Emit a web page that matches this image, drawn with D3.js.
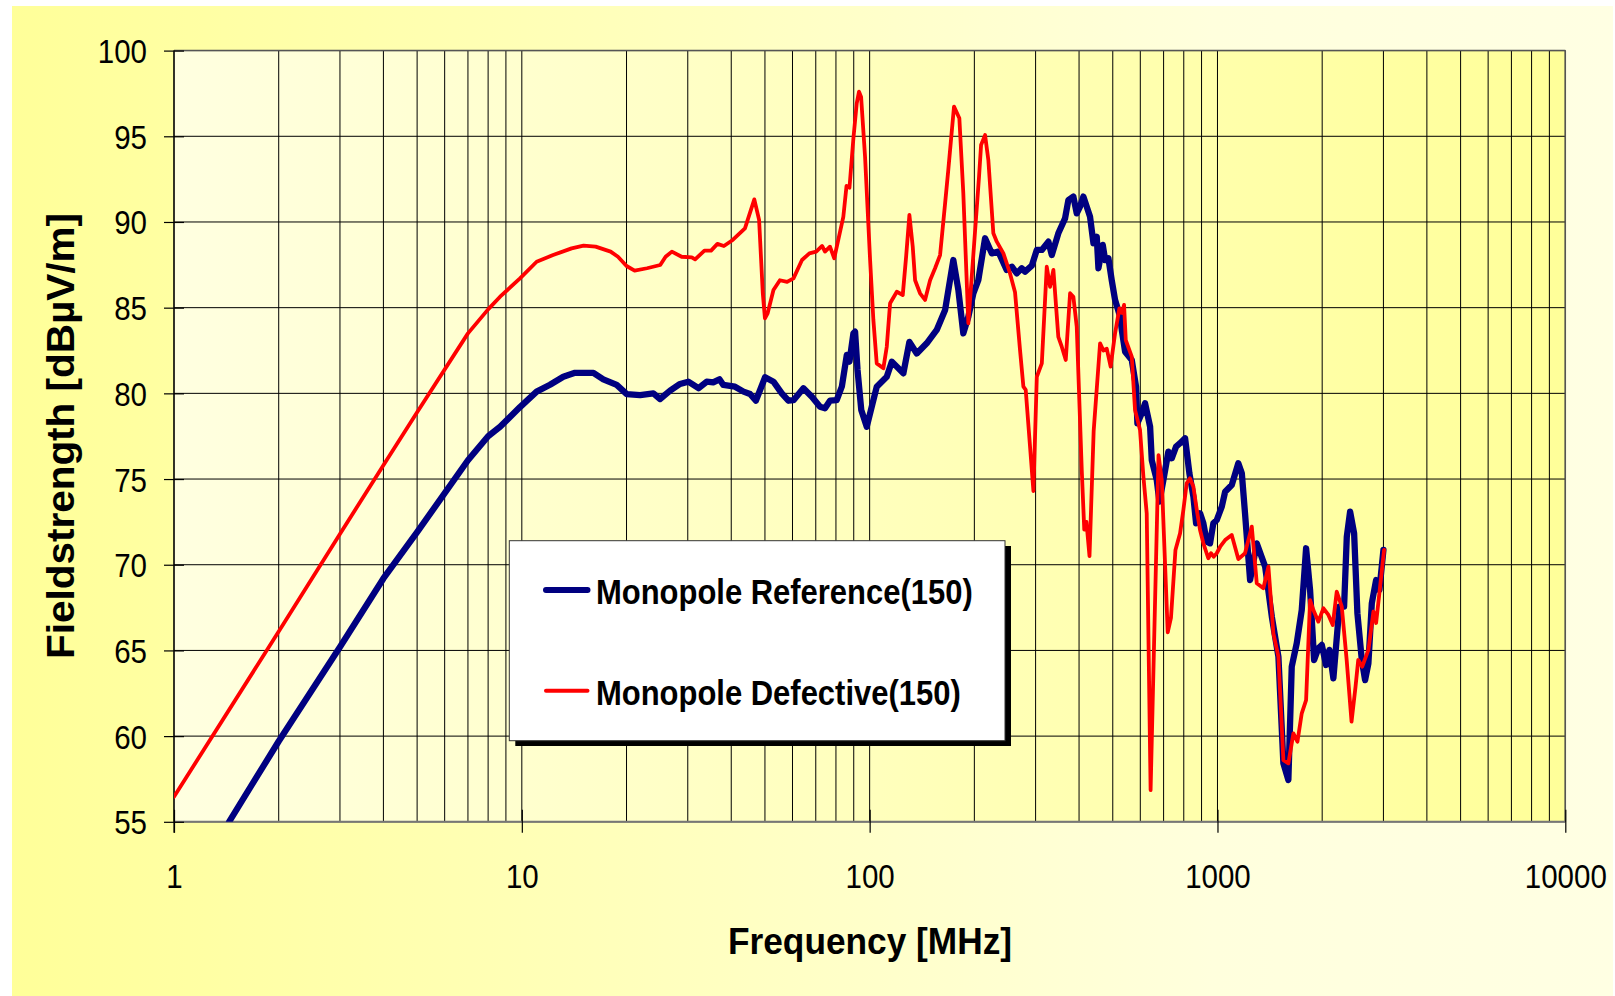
<!DOCTYPE html>
<html><head><meta charset="utf-8">
<script src="https://cdn.jsdelivr.net/npm/d3@7"></script>
<style>html,body{margin:0;padding:0;background:#fff;} svg{display:block;}</style>
</head><body><svg id="chart" width="1615" height="996"></svg>
<script>
// ---------------- data ----------------
const freqRef = [1.44,2,3,4,5,7,8,8.66,9.88,11.03,
12.05,13.16,14.22,16.06,17.15,18.74,20.03,21.88,23.89,24.97,
26.69,28.5,30.1,32.2,34.0,35.5,37.0,37.96,41.0,43.4,
45.3,47.1,50.05,52.9,55.9,58.4,60.4,64.5,68.2,72.0,
74.4,76.9,80.4,83.2,85.96,87.5,89.8,90.8,92.3,94.6,
98.1,104.8,112,115.8,125,130.1,136.6,145.9,155.9,164.8,
174,179.9,185.9,192.2,198.7,205.3,214.7,224.4,234.4,247.7,
256.3,264.8,273.7,279.9,292.5,302.4,312.6,326.6,333.9,348.7,
364.6,372.7,385.2,393.9,402.6,411.7,430.2,440,449.7,454.7,
468,475.4,485.8,496.6,507.7,525,530.8,542.6,567,583.4,
588.5,605.8,619.3,640.2,647.3,669,680.8,699,722.5,738.8,
760.2,780.6,807,830.4,852.7,867.9,891.2,910.8,931.5,952.1,
973.1,995.4,1029,1052,1099,1148,1175,1200,1241,1297,
1371,1433,1497,1547,1599,1635,1690,1747,1798,1846,
1896,1950,1995,2052,2098,2154,2241,2312,2354,2406,
2471,2525,2600,2657,2716,2778,2858,2921,3000];
const levelRef = [55.0,59.7,65.2,69.2,71.9,76.1,77.5,78.05,79.2,80.1,
80.5,80.97,81.2,81.2,80.82,80.49,79.96,79.9,80.0,79.67,
80.16,80.55,80.68,80.3,80.68,80.64,80.82,80.49,80.39,80.1,
79.96,79.57,80.94,80.68,80.0,79.57,79.6,80.3,79.8,79.22,
79.13,79.57,79.6,80.4,82.24,81.85,83.5,83.6,81.36,79.03,
78.05,80.39,80.97,81.85,81.17,83.0,82.33,82.92,83.7,84.86,
87.78,86.03,83.5,84.47,85.84,86.6,89.05,88.17,88.27,87.2,
87.39,87.0,87.3,87.1,87.45,88.37,88.37,88.85,88.07,89.34,
90.21,91.28,91.48,90.5,90.9,91.48,90.3,88.76,89.14,87.3,
88.66,87.78,87.88,86.6,85.45,84.47,83.7,82.43,81.95,80.39,
78.25,78.84,79.42,78.05,76.1,74.94,73.68,74.94,76.6,76.21,
76.89,77.09,77.38,75.33,73.97,72.42,73.0,72.42,71.34,71.25,
72.42,72.61,73.39,74.26,74.65,75.92,75.33,73.0,69.11,71.25,
69.89,66.97,64.63,58.41,57.44,64.05,65.42,67.36,70.96,68.53,
64.44,65.13,65.32,64.15,65.03,63.37,67.55,67.55,71.64,73.1,
71.83,67.17,64.44,63.27,64.25,67.75,69.11,68.53,70.86];

const freqDef = [1,2,3,4,5,7,8,8.66,9.88,11.03,
12.3,13.9,15.05,16.3,18.0,18.9,20.0,21.1,22.9,25.0,
25.9,27.0,28.8,30.8,31.5,33.5,35.0,36.5,38.1,40.4,
43.8,46.6,48.1,49.3,50.0,50.9,52.9,55.2,57.9,60.4,
63.9,67.1,70.2,73.0,74.4,76.9,79.1,84.0,85.8,87.5,
89.8,91.8,93.2,94.5,97.0,100.3,102.5,104.8,109.5,112,
114.5,119.7,124.5,127.3,130.1,133,135.1,139.6,144.3,149.2,
154.2,159.4,164.8,168.3,174.8,181.1,185.9,192.2,206.3,209.1,
214.7,219.4,226.8,232,242.4,253.3,261.8,270.6,276.7,281,
295.7,302.4,312.6,323,330.1,337.5,348.7,356.7,366.3,376.9,
385.2,393.9,407.2,414,420,428.6,440.6,459.7,470,480.6,
493,507.7,522.4,530.8,538.8,545,567,579.4,598.9,612.4,
626,642.3,676.9,691.6,719.4,735,757.2,780.6,797.9,815.7,
833.6,852.7,872,891,911,941,958,975,995,1018,
1052,1099,1148,1200,1255,1297,1355,1401,1448,1497,
1547,1599,1653,1698,1747,1798,1846,1887,1950,2017,
2084,2145,2202,2277,2352,2429,2494,2539,2607,2716,
2808,2858,2921,3013];
const levelDef = [56.46,66.1,71.8,75.8,78.9,83.5,84.9,85.64,86.71,87.68,
88.07,88.46,88.62,88.56,88.27,87.97,87.43,87.16,87.3,87.49,
87.97,88.27,87.97,87.94,87.82,88.33,88.33,88.72,88.6,88.95,
89.63,91.32,90.12,85.84,84.38,84.67,86.03,86.6,86.5,86.71,
87.78,88.17,88.27,88.6,88.27,88.56,87.88,90.3,92.1,92.0,
94.88,96.92,97.6,97.3,93.81,87.78,84.28,81.75,81.46,82.72,
85.26,85.93,85.74,87.97,90.41,88.56,86.6,85.84,85.45,86.6,
87.3,88.07,91.09,93.03,96.73,96.05,91.67,84.09,92.64,94.49,
95.07,93.62,89.34,88.85,88.17,87.0,85.9,82.53,80.39,80.2,
74.3,80.97,81.75,87.39,86.22,87.2,83.3,82.72,81.95,85.84,
85.64,83.89,75.53,72.05,72.5,70.5,77.8,82.92,82.5,82.6,
81.56,83.5,84.96,84.7,85.16,83.1,82.14,79.03,77.86,75.14,
73.0,56.85,76.4,74.94,66.05,66.9,70.86,71.83,73.2,74.75,
75.04,74.55,73.2,72.03,71.25,70.38,70.67,70.47,70.67,71.05,
71.44,71.74,70.33,70.67,72.22,68.92,68.63,69.89,66.0,64.63,
58.6,58.41,60.16,59.67,61.33,62.1,67.94,67.36,66.68,67.46,
67.07,66.48,68.43,67.55,64.44,60.84,62.88,64.44,64.05,65.03,
67.27,66.6,68.35,70.86];

const seriesNames = ["Monopole Reference(150)", "Monopole Defective(150)"];
const seriesColors = ["#000080", "#FF0000"];
const xTickValues = [1, 10, 100, 1000, 10000];
const yTickValues = [55, 60, 65, 70, 75, 80, 85, 90, 95, 100];
const xTitle = "Frequency [MHz]";
const yTitle = "Fieldstrength [dBµV/m]";

// ---------------- layout ----------------
const FONT = "'Liberation Sans', Arial, sans-serif";
const svg = d3.select("#chart");
const L = 174, R = 1565.3, T = 50.6, B = 821.8;
const x = d3.scaleLog().domain([1, 10000]).range([L, R]);
const y = d3.scaleLinear().domain([55, 100]).range([B, T]);

const defs = svg.append("defs");
const gOut = defs.append("linearGradient").attr("id", "gOut").attr("x1", 0).attr("x2", 1).attr("y1", 0).attr("y2", 0);
gOut.append("stop").attr("offset", "0").attr("stop-color", "#FFFF99");
gOut.append("stop").attr("offset", "0.75").attr("stop-color", "#FFFFDD");
gOut.append("stop").attr("offset", "1").attr("stop-color", "#FFFFE3");
const gIn = defs.append("linearGradient").attr("id", "gIn").attr("x1", 0).attr("x2", 1).attr("y1", 0).attr("y2", 0);
gIn.append("stop").attr("offset", "0").attr("stop-color", "#FFFFE0");
gIn.append("stop").attr("offset", "1").attr("stop-color", "#FFFF99");
defs.append("clipPath").attr("id", "plotClip").append("rect")
  .attr("x", L).attr("y", T).attr("width", R - L).attr("height", B - T);

svg.append("rect").attr("width", 1615).attr("height", 996).attr("fill", "#fff");
svg.append("rect").attr("x", 12).attr("y", 6).attr("width", 1601).attr("height", 990).attr("fill", "url(#gOut)");
svg.append("rect").attr("x", L).attr("y", T).attr("width", R - L).attr("height", B - T).attr("fill", "url(#gIn)");

// grid
const grid = svg.append("g");
grid.selectAll("line.v").data(x.ticks()).join("line")
  .attr("x1", d => x(d)).attr("x2", d => x(d)).attr("y1", T).attr("y2", B)
  .attr("stroke", "#000").attr("stroke-width", 1);
grid.selectAll("line.h").data(yTickValues).join("line")
  .attr("x1", L).attr("x2", R).attr("y1", d => y(d)).attr("y2", d => y(d))
  .attr("stroke", "#000").attr("stroke-width", 1);
// frame
svg.append("line").attr("x1", L).attr("x2", R).attr("y1", T).attr("y2", T).attr("stroke", "#555").attr("stroke-width", 1.5);
svg.append("line").attr("x1", R).attr("x2", R).attr("y1", T).attr("y2", B).attr("stroke", "#555").attr("stroke-width", 1.5);
svg.append("line").attr("x1", L).attr("x2", R).attr("y1", B).attr("y2", B).attr("stroke", "#777").attr("stroke-width", 2);
svg.append("line").attr("x1", L).attr("x2", L).attr("y1", T).attr("y2", B + 11).attr("stroke", "#000").attr("stroke-width", 1.2);

// series
const refData = freqRef.map((f, i) => ({f, v: levelRef[i]}));
const defData = freqDef.map((f, i) => ({f, v: levelDef[i]}));
const line = d3.line().x(d => x(d.f)).y(d => y(d.v));
const plot = svg.append("g").attr("clip-path", "url(#plotClip)");
plot.append("path").datum(refData).attr("d", line).attr("fill", "none")
  .attr("stroke", seriesColors[0]).attr("stroke-width", 6.3).attr("stroke-linejoin", "round").attr("stroke-linecap", "round");
plot.append("path").datum(defData).attr("d", line).attr("fill", "none")
  .attr("stroke", seriesColors[1]).attr("stroke-width", 3.8).attr("stroke-linejoin", "round").attr("stroke-linecap", "round");

// axes
const xAxis = d3.axisBottom(x).tickValues(xTickValues).tickFormat(d3.format("d")).tickSize(11);
const gx = svg.append("g").attr("transform", `translate(0,${B})`).call(xAxis);
gx.select(".domain").remove();
gx.selectAll(".tick line").attr("y1", -12).attr("stroke", "#000").attr("stroke-width", 1.2);
gx.selectAll(".tick text").attr("y", 66).attr("dy", 0)
  .attr("font-family", FONT).attr("font-size", 33).attr("fill", "#000")
  .attr("textLength", d => String(d).length * 16.4).attr("lengthAdjust", "spacingAndGlyphs");

const yAxis = d3.axisLeft(y).tickValues(yTickValues).tickSize(10);
const gy = svg.append("g").attr("transform", `translate(${L},0)`).call(yAxis);
gy.select(".domain").remove();
gy.selectAll(".tick line").attr("x1", 10).attr("stroke", "#000").attr("stroke-width", 1.2);
gy.selectAll(".tick text").attr("x", -27).attr("dy", 12)
  .attr("font-family", FONT).attr("font-size", 33).attr("fill", "#000").attr("text-anchor", "end")
  .attr("textLength", d => String(d).length * 16.4).attr("lengthAdjust", "spacingAndGlyphs");

// titles
svg.append("text").attr("x", 870).attr("y", 954).attr("text-anchor", "middle")
  .attr("font-family", FONT).attr("font-weight", "bold").attr("font-size", 37)
  .attr("textLength", 284).attr("lengthAdjust", "spacingAndGlyphs").text(xTitle);
svg.append("text").attr("transform", "translate(73.5,436) rotate(-90)").attr("text-anchor", "middle")
  .attr("font-family", FONT).attr("font-weight", "bold").attr("font-size", 38)
  .attr("textLength", 446).attr("lengthAdjust", "spacingAndGlyphs").text(yTitle);

// legend
const lg = svg.append("g");
lg.append("rect").attr("x", 515.3).attr("y", 546).attr("width", 495.7).attr("height", 200).attr("fill", "#000");
lg.append("rect").attr("x", 509.3).attr("y", 540.7).attr("width", 495.7).attr("height", 200)
  .attr("fill", "#fff").attr("stroke", "#333").attr("stroke-width", 1);
const legendY = [590, 690.7];
const legendW = [6, 4];
const legendLen = [376.7, 364.7];
seriesNames.forEach((name, i) => {
  lg.append("line").attr("x1", 546).attr("x2", 587.5).attr("y1", legendY[i]).attr("y2", legendY[i])
    .attr("stroke", seriesColors[i]).attr("stroke-width", legendW[i]).attr("stroke-linecap", "round");
  lg.append("text").attr("x", 596).attr("y", legendY[i] + 14)
    .attr("font-family", FONT).attr("font-weight", "bold").attr("font-size", 34.5)
    .attr("textLength", legendLen[i]).attr("lengthAdjust", "spacingAndGlyphs").text(name);
});
</script>
</body></html>
